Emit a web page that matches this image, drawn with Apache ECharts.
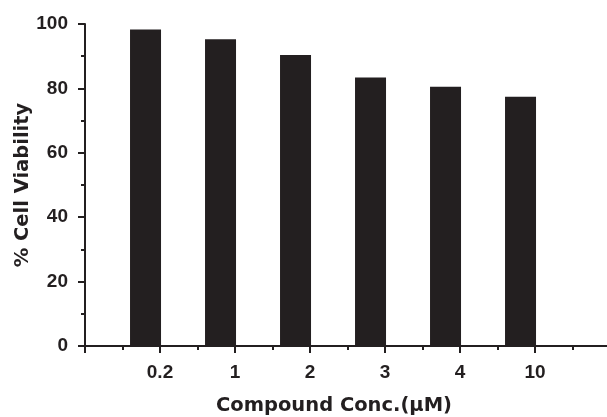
<!DOCTYPE html>
<html>
<head>
<meta charset="utf-8">
<script src="https://cdn.jsdelivr.net/npm/echarts@6/dist/echarts.min.js"></script>
<style>html,body{margin:0;padding:0;background:#fff}#c{width:607px;height:417px}</style>
</head>
<body>
<div id="c"></div>
<script>
const categories = ['0.2', '1', '2', '3', '4', '10'];
const viability = [98.3, 95.3, 90.4, 83.4, 80.5, 77.4];
const yTicks = [0, 20, 40, 60, 80, 100];
const xTitle = 'Compound Conc.(\u03bcM)';
const yTitle = '% Cell Viability';

const ink = '#231f20';
const titleFont = '"DejaVu Sans", sans-serif';
const tickFont = '"Liberation Sans", Arial, sans-serif';
const chart = echarts.init(document.getElementById('c'), null, {renderer: 'canvas'});
chart.setOption({
  animation: false,
  grid: {left: 85, right: -3, top: 24, bottom: 71, containLabel: false, outerBoundsMode: 'none'},
  xAxis: [{
    type: 'value', min: 0, max: 7, interval: 1,
    axisLine: {show: true, lineStyle: {color: ink, width: 2}},
    axisTick: {show: true, length: 7, lineStyle: {color: ink, width: 2}},
    minorTick: {show: true, splitNumber: 2, length: 4, lineStyle: {color: ink, width: 2}},
    splitLine: {show: false},
    axisLabel: {
      margin: 17, color: ink, fontFamily: tickFont, fontWeight: 'bold', fontSize: 19,
      formatter: v => (Number.isInteger(v) && v >= 1 && v <= categories.length) ? categories[v - 1] : ''
    }
  }, {
    type: 'value', min: 0.193, max: 7.193, show: false
  }],
  yAxis: {
    type: 'value', min: yTicks[0], max: yTicks[yTicks.length - 1], interval: 20,
    name: yTitle, nameLocation: 'middle', nameRotate: 90, nameGap: 52, nameMoveOverlap: false,
    nameTextStyle: {color: ink, fontFamily: titleFont, fontWeight: 'bold', fontSize: 19.5},
    axisLine: {show: true, lineStyle: {color: ink, width: 2}},
    axisTick: {show: true, length: 7, lineStyle: {color: ink, width: 2}},
    minorTick: {show: true, splitNumber: 2, length: 4, lineStyle: {color: ink, width: 2}},
    splitLine: {show: false},
    axisLabel: {margin: 17, color: ink, fontFamily: tickFont, fontWeight: 'bold', fontSize: 19}
  },
  graphic: [{
    type: 'text', x: 334, y: 406,
    style: {text: xTitle, fill: ink, font: 'bold 19.5px ' + titleFont, textAlign: 'center', textVerticalAlign: 'middle'}
  }],
  series: [{
    type: 'bar', xAxisIndex: 1, barWidth: 31,
    itemStyle: {color: ink},
    data: viability.map((v, i) => [i + 1, v])
  }]
});
</script>
</body>
</html>
